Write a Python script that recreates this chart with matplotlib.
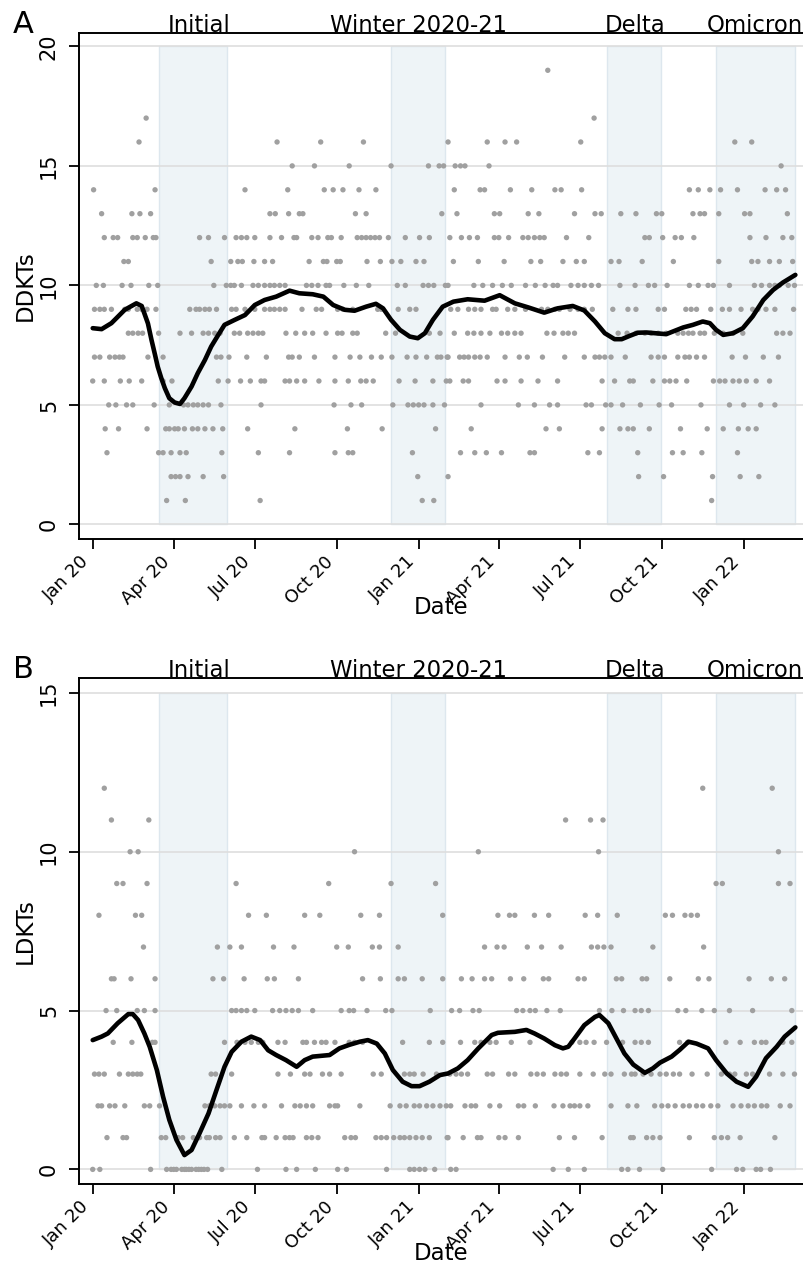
import numpy as np
import matplotlib
matplotlib.use("Agg")
import matplotlib.pyplot as plt
import matplotlib.dates as mdates

# day offsets are counted from 1 Jan 2020
start = np.datetime64("2020-01-01")

# ---- panel A: daily DDKT counts (day offset, count) ----
ddkt_day = [
    0, 1, 2, 2, 4, 8, 8, 10, 12, 13,
    13, 13, 14, 16, 18, 19, 21, 23, 25, 26,
    28, 29, 30, 31, 33, 34, 35, 36, 38, 40,
    40, 40, 41, 43, 44, 45, 45, 45, 50, 50,
    51, 52, 53, 55, 55, 56, 59, 60, 61, 61,
    62, 63, 65, 68, 69, 70, 71, 71, 73, 74,
    74, 79, 79, 79, 82, 83, 86, 86, 88, 88,
    89, 92, 93, 96, 98, 98, 98, 102, 103, 104,
    105, 107, 107, 109, 111, 112, 113, 116, 118, 118,
    120, 120, 124, 124, 124, 126, 126, 130, 130, 130,
    131, 133, 135, 136, 137, 139, 139, 141, 143, 144,
    144, 145, 146, 147, 148, 150, 152, 153, 155, 155,
    156, 159, 159, 161, 161, 163, 165, 166, 167, 167,
    168, 171, 171, 173, 173, 174, 174, 177, 180, 180,
    181, 182, 182, 186, 186, 186, 188, 189, 189,
    191, 193, 193, 193, 193, 195, 199, 199, 199, 199,
    202, 204, 204, 205, 207, 210, 210, 212, 216, 216,
    216, 217, 219, 220, 220, 221, 221, 224, 224, 226,
    227, 228, 229, 229, 232, 232, 235, 236, 238, 238,
    240, 243, 246, 246, 247, 249, 249, 251, 253, 253,
    254, 256, 257, 259, 260, 262, 262, 263, 264, 266,
    268, 270, 271, 272, 272, 272, 274, 275, 275, 278,
    279, 280, 281, 281, 282, 286, 287, 287, 288, 289,
    290, 292, 292, 292, 295, 296, 297, 297, 299, 300,
    301, 302, 302, 304, 307, 307, 307, 308, 310, 312,
    313, 315, 317, 318, 320, 322, 323, 324, 324, 325,
    329, 332, 335, 336, 336, 337, 340, 342, 343, 344,
    346, 351, 351, 353, 354, 356, 359, 360, 362, 363,
    363, 363, 365, 366, 367, 370, 371, 372, 372, 375,
    377, 377, 378, 378, 382, 382, 383, 383, 385, 387,
    389, 390, 391, 392, 394, 395, 396, 397, 398,
    399, 399, 399, 399, 401, 401, 402, 405, 406, 406,
    407, 409, 410, 412, 413, 413, 414, 416, 417, 418,
    421, 422, 422, 422, 423, 425, 428, 428, 429, 429,
    429, 432, 433, 435, 435, 436, 436, 436, 438, 440,
    442, 443, 443, 445, 446, 449, 449, 451, 451, 453,
    454, 456, 457, 459, 459, 460, 462, 463, 463, 463,
    466, 466, 467, 469, 470, 474, 474, 476, 478, 479,
    481, 481, 483, 486, 486, 488, 489, 489, 491, 492,
    493, 496, 496, 496, 497, 500, 501, 502, 503, 504,
    505, 507, 508, 509, 510, 511, 511, 513, 517, 518,
    519, 519, 522, 522, 522, 524, 524, 526, 528, 528,
    530, 532, 534, 536, 537, 541, 541, 543, 545, 545,
    548, 549, 552, 552, 552, 552, 554, 556, 557, 560,
    560, 561, 563, 564, 564, 568, 569, 569, 571, 572,
    572, 575, 576, 582, 582, 582, 584, 586, 590, 591,
    592, 592, 593, 595, 598, 600, 601, 601, 603,
    607, 607, 609, 610, 610, 610, 612, 613, 615, 617,
    620, 620, 624, 625, 625, 627, 627, 629, 631, 633,
    635, 635, 635, 636, 639, 640, 641, 642, 642, 642,
    644, 645, 648, 650, 651, 652, 654, 655, 657, 657,
    660, 661, 663, 663, 665, 666, 667, 669, 670, 670,
    670, 672, 674, 674, 675, 678, 678, 680, 680, 682,
    682, 683, 684, 687, 687, 687, 690, 691, 693, 694,
    695, 696, 697, 697, 698, 703, 703, 704, 705, 707,
    708, 708, 710, 715, 715, 715, 718, 719, 719, 721,
    724, 724, 725, 726, 727, 728, 730, 731, 732, 733,
    734, 736, 738, 738, 740, 740, 741, 743, 745, 745,
    747, 747, 748, 750, 751, 753, 755, 756, 756, 760,
    760, 760, 766, 766, 766, 768, 768, 770, 771, 771,
    773, 775, 775, 778, 780, 781, 783, 785, 786, 787,
    788,
]
ddkt_val = [
    6, 14, 9, 7, 10, 9, 7, 13, 10, 12,
    9, 6, 4, 3, 5, 7, 9, 12, 7, 5,
    12, 4, 7, 6, 10, 7, 11, 9, 5, 11,
    9, 8, 6, 10, 13, 12, 8, 5, 12, 9,
    8, 16, 13, 9, 6, 8, 12, 17, 9, 4,
    7, 10, 13, 12, 5, 14, 9, 12, 10, 8,
    3, 7, 6, 3, 4, 1, 5, 4, 3, 2,
    6, 4, 2, 4, 8, 3, 2, 5, 4, 1,
    3, 5, 2, 9, 8, 4, 5, 9, 4, 5,
    12, 9, 8, 5, 2, 9, 4, 12, 8, 5,
    9, 11, 4, 10, 8, 9, 7, 6, 8, 7,
    5, 3, 4, 2, 12, 10, 6, 7, 11, 10,
    9, 10, 8, 12, 9, 11, 8, 6, 12, 10,
    11, 14, 9, 12, 7, 8, 4, 6, 10, 8,
    11, 12, 9, 10, 8, 3, 1, 5, 6,
    8, 11, 10, 9, 6, 7, 13, 12, 10, 9,
    11, 10, 9, 13, 16, 10, 9, 12, 10, 9,
    6, 8, 14, 13, 7, 6, 3, 15, 7, 12,
    4, 8, 12, 6, 13, 7, 9, 13, 8, 6,
    10, 11, 12, 10, 8, 15, 7, 9, 12, 10,
    6, 16, 9, 11, 14, 10, 8, 11, 12, 10,
    12, 14, 5, 7, 6, 3, 11, 9, 8, 11,
    12, 8, 14, 9, 10, 4, 6, 3, 15, 7,
    5, 9, 8, 3, 13, 10, 12, 8, 14, 7,
    6, 12, 5, 16, 13, 12, 6, 11, 10, 12,
    7, 6, 12, 14, 9, 12, 11, 9, 7, 4,
    8, 12, 15, 11, 7, 5, 8, 10, 9, 6,
    11, 12, 10, 7, 5, 9, 3, 5, 6, 11,
    9, 7, 2, 5, 12, 1, 10, 11, 5, 7,
    15, 10, 12, 8, 6, 5, 10, 1, 4, 7,
    15, 8, 7, 13, 15, 5, 10, 6, 7,
    16, 10, 7, 2, 12, 6, 9, 11, 14, 8,
    15, 13, 9, 7, 15, 3, 12, 6, 7, 15,
    8, 9, 7, 6, 12, 4, 10, 8, 9, 7,
    3, 12, 11, 14, 7, 9, 8, 5, 10, 14,
    3, 16, 7, 15, 8, 10, 9, 13, 12, 9,
    6, 12, 13, 8, 3, 10, 11, 16, 7, 6,
    9, 8, 12, 14, 10, 9, 8, 16, 5, 7,
    8, 6, 12, 10, 9, 7, 13, 12, 3, 11,
    14, 12, 5, 3, 10, 6, 13, 12, 11, 9,
    7, 12, 10, 4, 8, 19, 9, 5, 10, 8,
    14, 9, 10, 6, 5, 9, 4, 14, 11, 8,
    7, 12, 8, 9, 10, 13, 8, 11, 10, 9,
    16, 14, 11, 10, 9, 7, 5, 3, 12, 10,
    5, 9, 17, 13, 7, 10, 7, 3, 13, 6,
    4, 7, 5, 11, 7, 5, 9, 6, 8, 11,
    10, 4, 13, 5, 7, 8, 9, 4, 6,
    6, 4, 10, 13, 9, 8, 3, 2, 5, 11,
    12, 8, 10, 12, 4, 8, 7, 6, 10, 13,
    9, 8, 7, 5, 13, 12, 2, 9, 7, 6,
    8, 10, 6, 5, 3, 11, 12, 6, 8, 7,
    4, 12, 8, 3, 7, 9, 6, 8, 14, 10,
    7, 9, 13, 8, 12, 9, 7, 14, 10, 13,
    8, 5, 3, 13, 8, 7, 4, 10, 14, 9,
    1, 2, 10, 6, 8, 13, 11, 6, 14, 9,
    8, 4, 6, 10, 9, 5, 7, 8, 6, 16,
    14, 3, 4, 6, 2, 9, 8, 5, 13, 7,
    6, 4, 13, 12, 16, 11, 9, 10, 6, 4,
    11, 9, 2, 5, 10, 7, 14, 12, 9, 11,
    10, 6, 10, 9, 5, 14, 8, 7, 11, 10,
    15, 12, 8, 14, 13, 10, 8, 12, 11, 9,
    10,
]

# smoothed DDKT line
ddkt_fit_day = [0, 10, 21, 36, 49, 55, 58, 62, 66, 70, 73, 77, 81, 86, 92, 98,
                103, 111, 118, 126, 133, 141, 148, 159, 171, 182, 193, 206, 221,
                232, 247, 259, 270, 283, 294, 307, 318, 326, 335, 345, 356, 365,
                373, 382, 393, 405, 421, 440, 457, 474, 489, 507, 522, 539, 552,
                564, 575, 586, 594, 603, 612, 622, 644, 663, 674, 685, 693, 700,
                708, 719, 730, 741, 753, 764, 775, 789]
ddkt_fit = [8.21, 8.17, 8.42, 8.98, 9.25, 9.14, 8.83, 8.41, 7.72, 7.09, 6.6, 6.12,
            5.7, 5.28, 5.1, 5.04, 5.28, 5.77, 6.33, 6.88, 7.44, 7.93, 8.35, 8.55,
            8.76, 9.18, 9.39, 9.53, 9.78, 9.67, 9.63, 9.53, 9.18, 8.98, 8.94, 9.11,
            9.23, 9.04, 8.56, 8.14, 7.86, 7.79, 8.0, 8.56, 9.11, 9.32, 9.42, 9.36,
            9.59, 9.25, 9.08, 8.86, 9.04, 9.14, 8.95, 8.49, 8.0, 7.75, 7.75, 7.89,
            8.02, 8.03, 7.96, 8.24, 8.35, 8.49, 8.42, 8.14, 7.93, 8.0, 8.21, 8.7,
            9.39, 9.81, 10.12, 10.44]

# ---- panel B: daily LDKT counts ----
ldkt_day = [
    0, 2, 6, 7, 7, 8, 10, 13, 13, 15,
    16, 19, 21, 21, 23, 24, 25, 27, 27, 30,
    34, 34, 36, 38, 40, 42, 43, 44, 45, 48,
    50, 50, 51, 54, 55, 57, 58, 58, 61, 63,
    64, 65, 67, 70, 70, 70, 75, 77, 82, 83,
    88, 91, 94, 96, 100, 101, 103, 105, 108, 111,
    113, 116, 119, 120, 122, 125, 126, 128, 129, 131,
    131, 133, 135, 137, 138, 138, 140, 143, 143, 145,
    147, 148, 148, 154, 154, 156, 156, 159, 161, 161,
    162, 167, 167, 167, 170, 171, 173, 173, 175, 178,
    181, 182, 185, 186, 190,
    191, 193, 193, 195, 196, 202, 203, 204, 206, 208,
    208, 210, 212, 216, 216, 217, 217, 221, 222, 224,
    225, 226, 227, 229, 231, 231, 233, 236, 238, 238,
    240, 240, 240, 244, 246, 247, 247, 249, 250, 253,
    255, 257, 258, 262, 265, 266, 266, 272, 272, 274,
    275, 275, 279, 279, 283, 285, 287, 288, 288, 290,
    293, 294, 294, 295, 300, 301, 303, 303, 308, 314,
    315, 318, 322, 322, 323, 324, 324, 329, 330, 330,
    334, 335, 336, 338, 343, 343, 345, 345, 348, 350,
    350, 350, 352, 356, 356, 356, 361, 361, 361, 363,
    367, 367, 370, 370, 371, 373, 375, 378, 378, 379,
    382, 384, 385, 386, 390, 393, 393, 393, 397, 398,
    399, 401, 402, 402, 403, 408, 408, 412, 413, 414,
    414, 416, 418, 421, 425, 426, 427, 429, 430, 432,
    433, 434, 436, 436, 440, 440, 443, 446, 446, 448,
    449, 453, 454, 455, 456, 457, 462, 463, 467, 468,
    469, 470, 474, 474, 476, 478, 478, 483, 484, 484,
    488, 491, 491, 492, 496, 497, 497, 499, 504, 506,
    506, 510, 512, 512, 517, 518, 519, 524, 525, 526,
    526, 528, 531, 532, 534, 536, 538, 541, 541, 545,
    547, 547, 547, 552, 552, 553, 554, 556, 559, 560,
    562, 563, 567, 567, 568, 569, 572, 573, 574, 575,
    577, 582, 582, 582, 583, 588, 589, 594, 594, 595,
    596, 597, 601, 601, 604, 605,
    607, 609, 609, 609, 611, 614, 616, 616, 617, 618,
    622, 622, 624, 624, 627, 629, 629, 631, 637, 637,
    639, 640, 643, 644, 646, 648, 651, 652, 654, 657,
    659, 659, 663, 665, 666, 668, 670, 670, 672, 673,
    678, 679, 680, 684, 685, 685, 686, 690, 692, 694,
    695, 698, 698, 700, 702, 706, 706, 707, 711, 713,
    715, 715, 719, 721, 723, 727, 727, 728, 730, 734,
    736, 737, 741, 741, 743, 743, 745, 750, 751, 751,
    756, 757, 760, 761, 762, 763, 766, 770, 770, 772,
    775, 775, 777, 783, 783, 785, 785, 788,
]
ldkt_val = [
    0, 3, 2, 8, 3, 0, 2, 12, 3, 5,
    1, 2, 11, 6, 4, 6, 2, 9, 5, 3,
    9, 1, 2, 1, 3, 10, 6, 4, 3, 8,
    5, 3, 10, 3, 8, 7, 5, 2, 9, 11,
    2, 0, 4, 6, 5, 4, 2, 1, 1, 0,
    0, 0, 0, 1, 0, 1, 0, 0, 0, 0,
    1, 0, 0, 1, 0, 0, 2, 1, 0, 2,
    1, 3, 6, 2, 3, 1, 7, 2, 1, 0,
    6, 4, 2, 7, 2, 5, 3, 1, 9, 5,
    4, 7, 5, 2, 6, 4, 5, 1, 8, 4,
    2, 5, 0, 4, 1,
    4, 2, 1, 8, 6, 5, 7, 6, 1, 4,
    3, 5, 2, 4, 1, 5, 0, 1, 3, 5,
    1, 7, 2, 0, 6, 5, 2, 4, 8, 3,
    4, 2, 1, 3, 1, 5, 2, 4, 0, 1,
    8, 4, 3, 4, 9, 3, 2, 4, 2, 7,
    2, 0, 5, 3, 1, 0, 7, 5, 4, 1,
    5, 10, 4, 1, 2, 8, 6, 4, 5, 7,
    3, 1, 8, 7, 6, 3, 1, 5, 1, 0,
    2, 9, 5, 1, 7, 6, 2, 1, 4, 6,
    3, 1, 2, 3, 1, 0, 3, 2, 0, 1,
    2, 0, 6, 1, 3, 0, 2, 4, 1, 5,
    2, 0, 9, 3, 2, 8, 6, 4, 2, 1,
    1, 3, 2, 0, 5, 3, 0, 5, 4, 6,
    3, 1, 2, 3, 2, 6, 5, 4, 2, 1,
    10, 5, 4, 1, 7, 6, 3, 4, 2, 6,
    3, 4, 7, 8, 1, 2, 7, 1, 3, 8,
    6, 4, 8, 3, 5, 2, 1, 5, 6, 2,
    7, 5, 4, 3, 8, 5, 2, 3, 7, 6,
    3, 5, 8, 6, 0, 2, 3, 1, 5, 7,
    3, 2, 11, 3, 0, 2, 4, 2, 1, 6,
    4, 3, 2, 6, 0, 8, 4, 2, 11, 7,
    3, 4, 8, 7, 10, 5, 1, 11, 7, 3,
    4, 7, 3, 2, 5, 6, 8, 6, 0, 4,
    5, 3, 2, 0, 1, 3,
    1, 5, 4, 3, 2, 0, 5, 4, 6, 3,
    6, 1, 5, 4, 3, 7, 1, 2, 3, 1,
    2, 0, 8, 3, 2, 6, 8, 3, 2, 5,
    4, 3, 2, 8, 5, 4, 2, 1, 8, 3,
    2, 8, 6, 5, 12, 2, 7, 3, 6, 2,
    0, 5, 1, 9, 2, 3, 1, 9, 4, 1,
    5, 3, 2, 3, 0, 4, 1, 2, 0, 3,
    2, 6, 5, 3, 4, 2, 0, 0, 4, 2,
    4, 2, 3, 0, 6, 12, 1, 10, 9, 2,
    4, 3, 6, 9, 2, 5, 4, 3,
]

ldkt_fit_day = [0, 10, 17, 28, 40, 45, 51, 58, 64, 72, 79, 86, 94, 103, 111, 120,
                130, 139, 148, 156, 167, 178, 188, 197, 206, 217, 229, 238, 247,
                266, 277, 288, 300, 309, 319, 328, 337, 348, 358, 367, 378, 390,
                399, 410, 421, 433, 448, 455, 474, 487, 496, 507, 519, 528, 534,
                541, 552, 564, 569, 579, 586, 597, 607, 620, 629, 637, 650, 659,
                669, 678, 691, 700, 712, 723, 736, 745, 756, 768, 777, 789]
ldkt_fit = [4.07, 4.18, 4.28, 4.6, 4.89, 4.89, 4.7, 4.28, 3.86, 3.13, 2.29, 1.56,
            0.93, 0.45, 0.61, 1.14, 1.76, 2.5, 3.23, 3.7, 4.02, 4.18, 4.07, 3.75,
            3.6, 3.44, 3.23, 3.44, 3.55, 3.6, 3.81, 3.92, 4.02, 4.07, 3.96, 3.65,
            3.13, 2.76, 2.62, 2.62, 2.76, 2.97, 3.02, 3.18, 3.44, 3.81, 4.23, 4.3,
            4.33, 4.39, 4.28, 4.12, 3.91, 3.81, 3.86, 4.12, 4.54, 4.8, 4.86, 4.6,
            4.23, 3.65, 3.3, 3.04, 3.18, 3.36, 3.55, 3.76, 4.02, 3.96, 3.81, 3.44,
            3.02, 2.76, 2.6, 2.92, 3.5, 3.86, 4.18, 4.47]

# pandemic periods
period_names = ["Initial", "Winter 2020-21", "Delta", "Omicron"]
period_start = ["2020-03-15", "2020-12-01", "2021-08-01", "2021-12-01"]
period_end = ["2020-05-31", "2021-01-31", "2021-09-30", "2022-02-28"]
period_label_at = ["2020-04-30", "2021-01-01", "2021-09-01", "2022-01-14"]

tick_dates = ["2020-01-01", "2020-04-01", "2020-07-01", "2020-10-01", "2021-01-01",
              "2021-04-01", "2021-07-01", "2021-10-01", "2022-01-01"]
tick_labels = ["Jan 20", "Apr 20", "Jul 20", "Oct 20", "Jan 21",
               "Apr 21", "Jul 21", "Oct 21", "Jan 22"]

base = mdates.date2num(start)


def dnum(s):
    return mdates.date2num(np.datetime64(s))


W, H = 804, 1268
AX_L, AX_W, AX_H = 79, 725, 506
fig = plt.figure(figsize=(W / 100, H / 100), dpi=100)


def panel(top_px, days, vals, fit_days, fit_vals, top, ylim, ylabel, letter):
    ax = fig.add_axes([AX_L / W, 1 - (top_px + AX_H) / H, AX_W / W, AX_H / H])
    # shaded periods
    for s, e in zip(period_start, period_end):
        ax.fill_between([dnum(s), dnum(e)], 0, top, facecolor="#eef4f7",
                        edgecolor="#dde7ee", linewidth=1.0, zorder=0.3)
    ax.scatter(base + np.array(days), vals, s=15, color="#a0a0a0",
               edgecolors="none", zorder=2)
    ax.plot(base + np.array(fit_days), fit_vals, color="black", lw=3.3,
            solid_capstyle="round", solid_joinstyle="round", zorder=3)

    ax.set_xlim(base - 15.4, base + 798.7)
    ax.set_ylim(*ylim)
    yt = np.arange(0, top + 1, 5)
    ax.set_yticks(yt)
    ax.yaxis.grid(True, color="#dedede", lw=1.2)
    ax.set_axisbelow(True)

    ax.set_xticks([dnum(t) for t in tick_dates])
    ax.set_xticklabels(tick_labels, rotation=45, ha="right")
    ax.tick_params(axis="both", direction="out", length=7, width=1.3)
    ax.tick_params(axis="x", labelsize=13, pad=3)
    # vertical y tick labels, placed centred on each tick
    ax.tick_params(axis="y", labelleft=False)
    for v in yt:
        ax.text((49 - AX_L) / AX_W, v, str(v), transform=ax.get_yaxis_transform(),
                rotation=90, ha="center", va="center", fontsize=15)
    for lab in ax.get_xticklabels():
        lab.set_rotation_mode("default")

    for side in ["left", "bottom", "top"]:
        ax.spines[side].set_linewidth(1.4)
    ax.spines["right"].set_visible(False)

    ax.set_ylabel(ylabel, fontsize=16.5, va="center")
    ax.yaxis.set_label_coords((25 - AX_L) / AX_W, 0.5)
    ax.set_xlabel("Date", fontsize=16.5, va="center")
    ax.xaxis.set_label_coords(0.5, -69 / AX_H)

    for name, pos in zip(period_names, period_label_at):
        ax.text(dnum(pos), 1.002, name, transform=ax.get_xaxis_transform(),
                ha="center", va="baseline", fontsize=16.4)

    fig.text(13 / W, 1 - top_px / H, letter, fontsize=22, va="baseline")
    return ax


panel(33, ddkt_day, ddkt_val, ddkt_fit_day, ddkt_fit, 20, (-0.61, 20.56),
      "DDKTs", "A")
panel(678, ldkt_day, ldkt_val, ldkt_fit_day, ldkt_fit, 15, (-0.46, 15.47),
      "LDKTs", "B")

fig.savefig("out.png", dpi=100)
